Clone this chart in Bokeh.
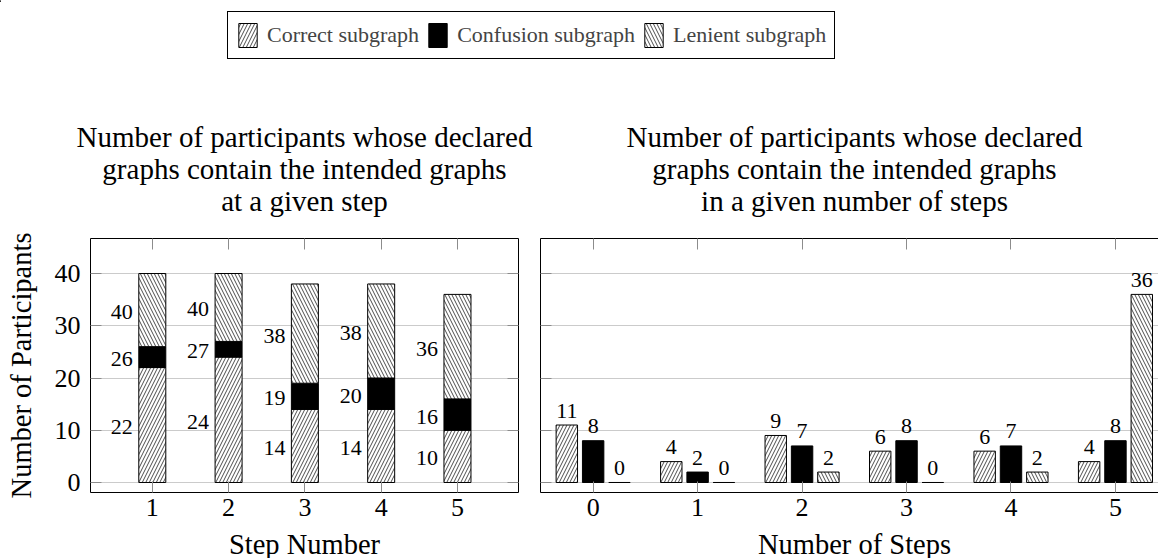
from bokeh.plotting import figure
from bokeh.models import (Range1d, FixedTicker, LinearAxis, Legend, LegendItem,
                          ColumnDataSource, Grid)
from bokeh.layouts import column, row
from bokeh.core.properties import value
from bokeh.embed import file_html
from bokeh.resources import INLINE

# ---------------- data ----------------
steps = [1, 2, 3, 4, 5]
correct_at_step = [22, 24, 14, 14, 10]
confusion_at_step = [26, 27, 19, 20, 16]   # cumulative (stacked) totals
lenient_at_step = [40, 40, 38, 38, 36]     # cumulative (stacked) totals

n_steps = [0, 1, 2, 3, 4, 5]
correct_in_steps = [11, 4, 9, 6, 6, 4]
confusion_in_steps = [8, 2, 7, 8, 7, 8]
lenient_in_steps = [0, 0, 2, 0, 2, 36]

y_ticks = [0, 10, 20, 30, 40]
series_names = ["Correct subgraph", "Confusion subgraph", "Lenient subgraph"]
title_left = ["Number of participants whose declared",
              "graphs contain the intended graphs",
              "at a given step"]
title_right = ["Number of participants whose declared",
               "graphs contain the intended graphs",
               "in a given number of steps"]
xlabel_left = "Step Number"
xlabel_right = "Number of Steps"
ylabel = "Number of Participants"

# ---------------- styles ----------------
FONT = "Liberation Serif"
W = 1158
HATCH = dict(hatch_color="black", hatch_weight=0.7, hatch_scale=7)
STY = [
    dict(fill_color="white", hatch_pattern="/", line_color="black", line_width=1, **HATCH),
    dict(fill_color="black", line_color="black", line_width=1),
    dict(fill_color="white", hatch_pattern="\\", line_color="black", line_width=1, **HATCH),
]
Y0, Y1 = -1.914, 46.70
TOP_H, PANEL_H, BOT_H = 222, 308, 28


def mk_axis(ticks, labels=True, standoff=5):
    ax = LinearAxis(ticker=FixedTicker(ticks=ticks),
                    axis_line_color="black", axis_line_width=1,
                    major_tick_in=11, major_tick_out=0,
                    major_tick_line_color="#8c8c8c", major_tick_line_width=1,
                    minor_tick_line_color=None,
                    major_label_text_font=FONT, major_label_text_font_size="26px",
                    major_label_text_color="black", major_label_standoff=standoff)
    if not labels:
        ax.major_label_overrides = {t: "" for t in ticks}
        ax.major_label_text_font_size = "1px"
        ax.major_label_standoff = 0
    return ax


def base_fig(width, xr, mb_left, mb_right):
    p = figure(width=width, height=PANEL_H, x_range=Range1d(*xr), y_range=Range1d(Y0, Y1),
               x_axis_type=None, y_axis_type=None, title=None,
               toolbar_location=None, output_backend="svg",
               min_border_left=mb_left, min_border_right=mb_right,
               min_border_top=16, min_border_bottom=38,
               outline_line_color=None, background_fill_color="white",
               border_fill_color="white")
    p.add_layout(Grid(dimension=1, ticker=FixedTicker(ticks=y_ticks),
                      grid_line_color="#cbcbcb", grid_line_width=1))
    return p


def strip_fig(height, y_top):
    # pixel-space strip used only for free text / legend
    return figure(width=W, height=height, x_range=Range1d(0, W),
                  y_range=Range1d(y_top + height, y_top),
                  x_axis_type=None, y_axis_type=None, title=None,
                  toolbar_location=None, output_backend="svg",
                  outline_line_color=None, min_border=0,
                  background_fill_color="white", border_fill_color="white")


# ---------------- left panel: stacked ----------------
BW_L = 0.354
p1 = base_fig(529, (0.19, 5.8), 90, 11)
p1.add_layout(mk_axis(steps, True, 6), "below")
yax = mk_axis(y_ticks, True, 10)
yax.axis_label = ylabel
yax.axis_label_text_font = FONT
yax.axis_label_text_font_size = "28.5px"
yax.axis_label_text_font_style = "normal"
yax.axis_label_text_color = "black"
yax.axis_label_standoff = 15
p1.add_layout(yax, "left")
p1.add_layout(mk_axis(steps, False), "above")
p1.add_layout(mk_axis(y_ticks, False), "right")

zeros = [0] * len(steps)
bottoms = [zeros, correct_at_step, confusion_at_step]
tops = [correct_at_step, confusion_at_step, lenient_at_step]
for b, t, s in zip(bottoms, tops, STY):
    p1.vbar(x=steps, bottom=b, top=t, width=BW_L, **s)

for b, t in zip(bottoms, tops):
    src = ColumnDataSource(dict(x=[s - BW_L / 2 for s in steps],
                                y=[(bb + tt) / 2 for bb, tt in zip(b, t)],
                                txt=[str(v) for v in t]))
    p1.text(x="x", y="y", text="txt", source=src, text_align="right",
            text_baseline="middle", x_offset=-6, y_offset=2,
            text_font=value(FONT), text_font_size=value("22px"), text_color="black")

# ---------------- right panel: grouped ----------------
BW_R = 0.205
OFF = [-0.252, 0.0, 0.252]
p2 = base_fig(629, (-0.504, 5.412), 11, 0)
p2.add_layout(mk_axis(n_steps, True, 6), "below")
p2.add_layout(mk_axis(y_ticks, False), "left")
p2.add_layout(mk_axis(n_steps, False), "above")

for vals, off, s in zip([correct_in_steps, confusion_in_steps, lenient_in_steps], OFF, STY):
    xs = [n + off for n in n_steps]
    p2.vbar(x=xs, bottom=0, top=vals, width=BW_R, **s)
    src = ColumnDataSource(dict(x=xs, y=vals, txt=[str(v) for v in vals]))
    p2.text(x="x", y="y", text="txt", source=src, text_align="center",
            text_baseline="middle", y_offset=-14.5,
            text_font=value(FONT), text_font_size=value("22px"), text_color="black")

# ---------------- top strip: legend + titles ----------------
top = strip_fig(TOP_H, 0)
rs = [top.vbar(x=[-1000], bottom=[0], top=[1], width=1, **s) for s in STY]
legend = Legend(items=[LegendItem(label=n, renderers=[r]) for n, r in zip(series_names, rs)],
                location=(227, TOP_H - 59), orientation="horizontal",
                glyph_width=23, glyph_height=30, label_standoff=8, spacing=7,
                padding=8, margin=0, border_line_color="black", border_line_width=1,
                border_line_alpha=1, background_fill_color="white", background_fill_alpha=1,
                label_text_font=FONT, label_text_font_size="22px")
top.add_layout(legend, "center")

title_y = [136.5, 168.5, 200.5]
for xc, lines in ((304, title_left), (854, title_right)):
    top.text(x=[xc] * 3, y=title_y, text=lines, text_align="center",
             text_baseline="middle", text_font=value(FONT),
             text_font_size=value("29px"), text_color="black")

# ---------------- bottom strip: x-axis titles ----------------
bot = strip_fig(BOT_H, TOP_H + PANEL_H)
bot.text(x=[304, 854], y=[543.5, 543.5], text=[xlabel_left, xlabel_right],
         text_align="center", text_baseline="middle", text_font=value(FONT),
         text_font_size=value("28.5px"), text_color="black")

layout = column(top, row(p1, p2), bot)
open("out.html", "w").write(file_html(layout, INLINE))
